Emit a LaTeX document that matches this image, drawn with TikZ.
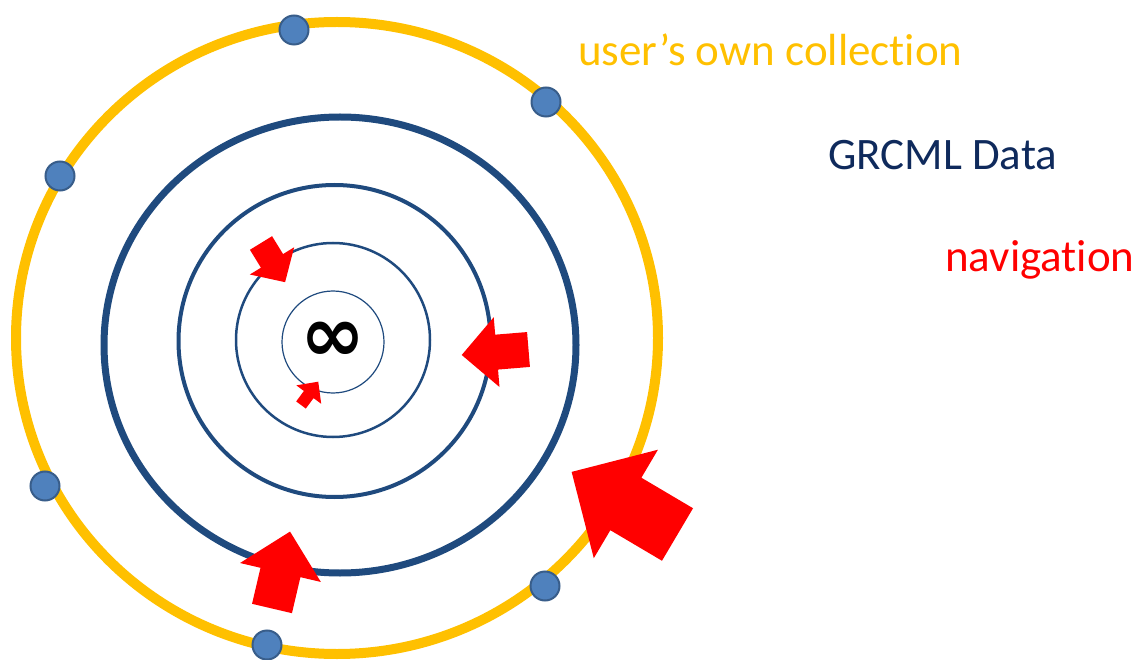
\documentclass[tikz,border=0pt]{standalone}
\usepackage{fontspec}
\setmainfont{Carlito}[Ligatures=NoCommon]
\newfontfamily\symfont{DejaVu Sans}
% keeps "t" and "i" as separate glyphs
\newcommand\sep{\kern0pt{}}
\definecolor{gold}{HTML}{FFC000}
\definecolor{navy}{HTML}{1F4A7E}
\definecolor{darknavy}{HTML}{0F2A5C}
\definecolor{dotfill}{HTML}{4F81BD}
\definecolor{dotline}{HTML}{385D8A}
\tikzset{
  ring/.style={draw=navy, fill=none},
  member/.style={circle, draw=dotline, line width=2pt, fill=dotfill, minimum size=29pt, inner sep=0pt},
  label/.style={anchor=base west, inner sep=0pt, font=\fontsize{45}{45}\selectfont},
  % block arrow: length, head width, shaft width, head length (tail at origin, pointing along +x)
  pics/blockarrow/.style n args={4}{code={
    \fill[red] (0,-#3/2) -- ({#1-#4},-#3/2) -- ({#1-#4},-#2/2) -- (#1,0)
      -- ({#1-#4},#2/2) -- ({#1-#4},#3/2) -- (0,#3/2) -- cycle;
  }}
}
\begin{document}
\begin{tikzpicture}[x=1pt,y=-1pt]
\useasboundingbox (0,0) rectangle (1146,660);

% concentric rings
\draw[gold, line width=10pt] (337,338) ellipse [x radius=321, y radius=316];
\draw[ring, line width=7pt] (340,345) ellipse [x radius=236, y radius=228];
\draw[ring, line width=4pt] (334.5,341) circle [radius=156];
\draw[ring, line width=2.5pt] (333,340) circle [radius=97];
\draw[ring, line width=1.2pt] (333,342) circle [radius=51];

\node[inner sep=0pt] (inf) at (333,342) {\symfont\bfseries\fontsize{78}{78}\selectfont ∞};

% items of the collection on the outer ring
\node[member] (m1) at (294,30) {};
\node[member] (m2) at (546,102) {};
\node[member] (m3) at (60,176) {};
\node[member] (m4) at (45,486) {};
\node[member] (m5) at (545,586) {};
\node[member] (m6) at (267,645) {};

% navigation arrows
\pic[rotate=-58.4] at (261,243) {blockarrow={46}{52}{26}{25}};
\pic[rotate=53.5] at (301,405) {blockarrow={29}{31}{12}{16}};
\pic[rotate=184.7] at (528.5,349.5) {blockarrow={67}{70}{35}{35}};
\pic[rotate=149.4] at (677.5,534.5) {blockarrow={123}{126}{61}{63}};
\pic[rotate=76.8] at (272,608.5) {blockarrow={79}{83}{41}{42}};

% legend
\node[label, text=gold] (l1) at (578,66) {user’s own collect\sep ion};
\node[label, text=darknavy] (l2) at (828,170) {GRCML Data};
\node[label, text=red] (l3) at (945,272) {navigat\sep ion};
\end{tikzpicture}
\end{document}
